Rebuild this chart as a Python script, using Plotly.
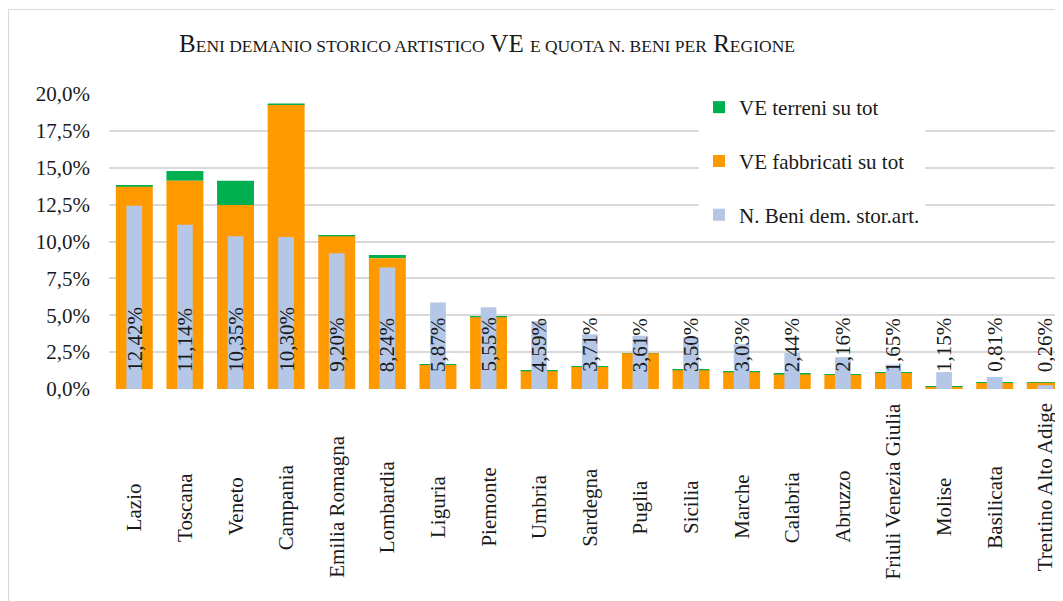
import plotly.graph_objects as go

regions = ["Lazio", "Toscana", "Veneto", "Campania", "Emilia Romagna", "Lombardia",
           "Liguria", "Piemonte", "Umbria", "Sardegna", "Puglia", "Sicilia", "Marche",
           "Calabria", "Abruzzo", "Friuli Venezia Giulia", "Molise", "Basilicata",
           "Trentino Alto Adige"]

ve_fabbricati = [13.72, 14.12, 12.47, 19.25, 10.35, 8.86, 1.63, 4.86, 1.20, 1.50,
                 2.42, 1.27, 1.14, 0.98, 0.95, 1.08, 0.12, 0.41, 0.42]
ve_terreni = [0.05, 0.66, 1.65, 0.10, 0.09, 0.22, 0.06, 0.03, 0.07, 0.04,
              0.02, 0.09, 0.08, 0.05, 0.02, 0.02, 0.03, 0.01, 0.05]
n_beni = [12.42, 11.14, 10.35, 10.30, 9.20, 8.24, 5.87, 5.55, 4.59, 3.71,
          3.61, 3.50, 3.03, 2.44, 2.16, 1.65, 1.15, 0.81, 0.26]

y_ticks = [0, 2.5, 5, 7.5, 10, 12.5, 15, 17.5, 20]
y_tick_text = [f"{v:.1f}%".replace(".", ",") for v in y_ticks]

FONT = "Liberation Serif"
TXT = "#1a1a1a"
x_idx = list(range(len(regions)))

W, H = 1055, 593
L, T, B = 101, 86, 212
PW, PH = W - L, H - T - B

fig = go.Figure()
fig.add_trace(go.Bar(
    x=x_idx, y=ve_terreni, base=ve_fabbricati, width=0.73, name="VE terreni su tot",
    marker=dict(color="#00B050", line=dict(width=0)), legendgroup="a"))
fig.add_trace(go.Bar(
    x=x_idx, y=ve_fabbricati, width=0.73, name="VE fabbricati su tot",
    marker=dict(color="#FF9900", line=dict(width=0)), legendgroup="b"))
fig.add_trace(go.Bar(
    x=x_idx, y=n_beni, width=0.31, name="N. Beni dem. stor.art.",
    marker=dict(color="#B4C7E7", line=dict(width=0)), legendgroup="c"))

annotations = []
for i, v in enumerate(n_beni):
    annotations.append(dict(
        x=i, y=0, xref="x", yref="y", text=f"{v:.2f}%".replace(".", ","),
        textangle=-90, showarrow=False, xanchor="center", yanchor="bottom",
        yshift=15, font=dict(family=FONT, size=21, color=TXT)))

for i, name in enumerate(regions):
    long_label = len(name) > 16
    annotations.append(dict(
        x=i, y=0, xref="x", yref="paper",
        text=name, textangle=-90, showarrow=False, xanchor="center",
        yanchor="top" if long_label else "middle",
        yshift=-12 if long_label else -118,
        font=dict(family=FONT, size=21, color=TXT)))

sc = "font-size:17.5px"
title = (f"B<span style='{sc}'>ENI DEMANIO STORICO ARTISTICO</span> VE "
         f"<span style='{sc}'>E QUOTA N. BENI PER</span> R<span style='{sc}'>EGIONE</span>")

fig.update_layout(
    width=W, height=H,
    margin=dict(l=L, r=0, t=T, b=B, autoexpand=False),
    paper_bgcolor="white", plot_bgcolor="white",
    barmode="overlay",
    font=dict(family=FONT, size=21, color=TXT),
    title=dict(text=title, x=479 / W, xanchor="center", xref="container",
               y=1 - 44 / H, yanchor="bottom", yref="container",
               font=dict(family=FONT, size=25, color=TXT)),
    xaxis=dict(range=[-0.5, 18.35], showticklabels=False, showgrid=False,
               zeroline=False, showline=False, ticks=""),
    yaxis=dict(range=[0, 20], tickvals=y_ticks, ticktext=y_tick_text,
               showgrid=True, gridcolor="#D9D9D9", gridwidth=1.5,
               zeroline=False, showline=False, ticks="", ticklabelstandoff=18,
               tickfont=dict(family=FONT, size=21, color=TXT)),
    legend=dict(xref="paper", yref="paper", x=(691 - L) / PW, y=1 + 7 / PH,
                xanchor="left", yanchor="top", bgcolor="white",
                tracegroupgap=23.5, traceorder="grouped",
                font=dict(family=FONT, size=21, color=TXT)),
    annotations=annotations,
    shapes=[dict(type="rect", xref="paper", yref="paper",
                 x0=(0.5 - L) / PW, x1=1.05, y0=-1.2, y1=(T + PH - 1.5) / PH,
                 line=dict(color="#D9D9D9", width=1.2), fillcolor="rgba(0,0,0,0)",
                 layer="below")],
)

fig.write_html("out.html")
